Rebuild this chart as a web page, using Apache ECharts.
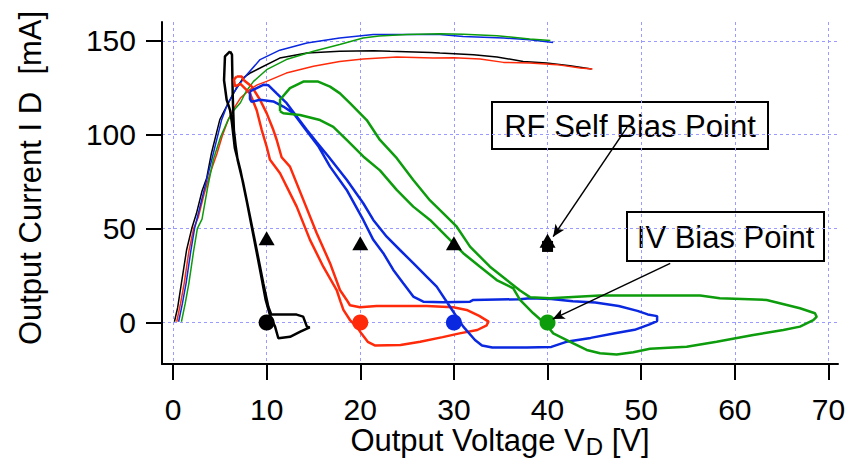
<!DOCTYPE html>
<html><head><meta charset="utf-8">
<script src="https://cdn.jsdelivr.net/npm/echarts@6.0.0/dist/echarts.min.js"></script>
<style>html,body{margin:0;padding:0;background:#fff}#c{width:848px;height:460px}</style>
</head><body><div id="c"></div>
<script>
// ---- tick labels ----
const xTicks = [0, 10, 20, 30, 40, 50, 60, 70];
const yTicks = [0, 50, 100, 150];

// ---- DC I-V curves (thin) ----
const ivBlack = [[0.15,0.4],[0.5,8],[0.9,21],[1.45,38.6],[2.0,50],[2.5,58],[3.1,70],[3.6,77],[4.1,90],[4.6,100],[5.0,108],[5.5,113],[6.1,118.6],[6.8,125],[7.5,130.2],[8.3,133],[9.3,135.5],[11.4,140.8],[14.3,143.5],[17.8,144.4],[21.4,144.7],[23.2,144.4],[27.5,143.8],[28.5,143.5],[32.1,142.6],[34.6,141.4],[37.4,139],[39.9,138.2],[42.4,136.7],[44.7,135]];
const ivRed = [[0.4,0.4],[0.8,10],[1.2,21],[1.7,38],[2.2,50],[2.7,56],[3.3,68],[4.0,80],[4.7,90],[5.3,100],[5.9,108],[6.5,114],[7.2,119.5],[8.2,124],[9.0,126.5],[10,128.4],[12.1,132.8],[15,136.4],[17.8,139],[20.3,140.3],[23.9,141.4],[27.8,140.8],[30,141],[32.8,140.3],[35.3,138.5],[38.1,138.2],[41,137.3],[43.5,135.5],[44.8,135]];
const ivBlue = [[0.6,0.4],[1.0,10],[1.4,21],[1.9,38],[2.3,50],[2.55,55],[3.6,76],[4.4,92],[5.2,108],[5.8,116],[6.45,122],[7.1,127],[7.9,132],[9.3,140],[11.4,145],[14.3,148.8],[17.8,151.5],[21.4,153.3],[23.9,153.3],[28.5,153.3],[31,152.3],[35.3,151.5],[38.1,150.6],[40.6,149.1]];
const ivGreen = [[0.9,0.4],[1.3,10],[1.7,21],[2.2,38],[2.6,50],[3.1,55],[3.7,72],[4.3,86.6],[5.1,99],[5.9,108],[6.5,113],[7.2,117],[7.8,123],[8.6,128.4],[10,134.6],[12.1,140],[15,144.4],[17.8,148],[20.3,151.5],[22,152.5],[25,153.3],[28.5,153.8],[31,153.5],[34.6,152.7],[38.1,151],[40.3,150.2]];

// ---- RF dynamic load lines (thick loops) ----
const rfBlack = [[6.09,144.4],[6.3,142.6],[6.38,120.4],[6.5,102.6],[6.7,93.7],[6.9,86.6],[7.5,74.2],[8.22,56.4],[8.94,38.6],[9.64,20.9],[10.18,8.4],[10.5,4.2],[11.5,4.2],[13.2,4.2],[13.9,3.1],[14.3,-2.2],[14.6,-2.6],[13.6,-4.9],[12.5,-7.6],[11.25,-8.4],[10.9,-2.2],[10.4,3.1],[9.9,12],[9.3,28],[8.6,46],[7.9,64],[7.2,81],[6.6,93],[6.3,106],[6.1,113],[5.73,118.6],[5.45,129],[5.55,141.7],[6.09,144.4]];
const rfRed = [[6.8,131],[7.34,131],[7.51,129.3],[8.4,125.7],[9.29,118.6],[10.0,111.5],[10.71,102.6],[11.07,97.3],[11.6,88],[12.49,83],[13.92,65.3],[15.35,47.5],[16.77,31.6],[17.83,17.3],[18.55,12],[18.9,9.2],[19.97,8.1],[21.75,8.8],[27.09,8.8],[29.93,8.1],[31.36,6.7],[32.7,3.5],[33.7,0.5],[33.5,-1.5],[32.5,-4],[30.6,-5.8],[28.8,-7.8],[26.4,-10.2],[24.3,-12],[21.6,-12.3],[20.8,-10.3],[20.0,-5],[19.6,-2.2],[18.9,1.3],[18.2,6.7],[17.9,11],[17.48,17.3],[16.05,29.7],[14.63,44],[13.21,61.7],[11.43,79.5],[10.36,86.6],[10.0,93.7],[9.47,102.6],[8.94,113],[8.22,122],[7.2,127],[6.62,125.7],[6.51,129.3],[6.8,131]];
const rfBlue = [[8.22,123],[8.94,124.8],[9.7,126.6],[10.2,126.3],[11.07,122],[12.14,116.8],[13.21,109.7],[14.28,102.6],[15.35,96],[16.6,88.4],[18.55,76],[20.32,63.5],[21.39,54.6],[22.82,45.7],[24.24,38.6],[25.66,31.6],[27.09,24.4],[28.16,19.1],[29.58,8.4],[31.0,-2.2],[32.25,-9.3],[33.0,-12.2],[34.1,-13.3],[37.8,-13.3],[40.4,-13],[42,-10.3],[44.6,-8.2],[47.2,-5.7],[49.3,-3.9],[50.9,-1],[51.7,0.8],[51.7,3.4],[50.7,4.3],[49.6,6.2],[47.6,8.8],[45.1,10.6],[42.7,11.3],[40.4,12.5],[38.12,12.9],[37.06,12.4],[32.07,12],[31.72,11.1],[28.87,10.8],[26.73,11.1],[25.66,13.8],[24.59,20.9],[23.53,28],[22.46,36.9],[21.39,44],[20.32,54.6],[18.55,70.6],[16.77,83],[15.5,94],[13.92,104.4],[12.85,111.5],[11.78,115],[10.71,117.7],[9.29,118.6],[8.4,117.5],[8.22,119],[8.22,123]];
const rfGreen = [[11.43,112.5],[11.43,118.6],[12.49,124.8],[13.92,128.3],[15.5,128.3],[16.77,125.6],[17.83,122],[18.9,116.8],[20.69,107.8],[22.1,97.2],[23.9,87.5],[25.66,75.9],[27.45,65],[28.87,58.1],[30.3,51],[31.72,40.4],[33.85,29.7],[35.64,22.6],[37.06,17],[38.12,13.5],[40.26,12.9],[45.6,14.4],[56.3,14.4],[58.4,12.9],[63.4,12],[66.96,7.6],[68.56,4.9],[68.74,3],[68.38,1.3],[66.96,-2.2],[65.18,-4],[61.97,-6.7],[58.06,-10.2],[54.86,-12.9],[50.94,-14],[49.16,-15.8],[47.38,-17.1],[45.6,-16.4],[44.18,-14.6],[42.75,-11.1],[40.61,-5.8],[39.9,-1.3],[38.48,4.9],[37.06,12],[36.34,18.2],[34.57,22.6],[32.79,29.7],[31,36.9],[29.23,45.7],[27.45,54.6],[25.66,61.7],[23.89,70.6],[22.1,81],[20.32,88.4],[18.55,97.2],[17.12,104.2],[15.7,107.8],[13.56,110.5],[11.78,111.4],[11.43,112.5]];

// ---- bias points ----
const biasVoltage = [10, 20, 30, 40];          // V_D bias of each trace
const ivBiasCurrent = [0, 0, 0, 0];            // IV bias point current
const rfBiasCurrent = [44.8, 42.2, 42.2, 43.5]; // RF self bias point current
const rfExtraPoint = [[40, 40.5]];             // square marker under the 40 V triangle

// ---- annotations ----
const annRF = { text: 'RF Self Bias Point', from: [48.5, 104], to: [40.6, 45.7] };
const annIV = { text: 'IV Bias Point', from: [53.1, 31.5], to: [40.55, 1.8] };

const COLORS = ['#000000', '#ff2a0a', '#0a28e0', '#0c9c0c'];
const FONT = "'Liberation Sans', Arial, sans-serif";

const chart = echarts.init(document.getElementById('c'), null, { renderer: 'svg' });

const ivSets = [ivBlack, ivRed, ivBlue, ivGreen];
const rfSets = [rfBlack, rfRed, rfBlue, rfGreen];
const series = [];
ivSets.forEach((d, i) => series.push({
  type: 'line', data: d, showSymbol: false, symbol: 'none', silent: true,
  lineStyle: { color: COLORS[i], width: 1.5 }, z: 2
}));
rfSets.forEach((d, i) => series.push({
  type: 'line', data: d, showSymbol: false, symbol: 'none', silent: true,
  lineStyle: { color: COLORS[i], width: 2.5 }, z: 3
}));
series.push({
  type: 'scatter', symbol: 'circle', symbolSize: 16, z: 5,
  data: biasVoltage.map((v, i) => ({ value: [v, ivBiasCurrent[i]], itemStyle: { color: COLORS[i], opacity: 1 } }))
});
series.push({
  type: 'scatter', symbol: 'rect', symbolSize: 11, z: 5, itemStyle: { color: '#000', opacity: 1 },
  data: rfExtraPoint
});
series.push({
  type: 'scatter', symbol: 'triangle', symbolSize: [16, 14], z: 5, itemStyle: { color: '#000', opacity: 1 },
  data: biasVoltage.map((v, i) => [v, rfBiasCurrent[i]]),
  markLine: {
    silent: true, symbol: ['none', 'arrow'], symbolSize: [8, 12], z: 6,
    lineStyle: { color: '#000', width: 1.5, type: 'solid', opacity: 1 },
    label: { show: false },
    data: [
      [{ coord: annRF.from }, { coord: annRF.to }],
      [{ coord: annIV.from }, { coord: annIV.to }]
    ]
  }
});

const gridLine = { show: true, lineStyle: { color: '#9a9aff', width: 1, type: [3, 3] } };

chart.setOption({
  animation: false,
  backgroundColor: '#fff',
  grid: { left: 162, top: 22, width: 676, height: 342, containLabel: false, outerBoundsMode: 'none' },
  xAxis: {
    type: 'value', min: -1.175, max: 71.02,
    axisLine: { show: true, onZero: false, lineStyle: { color: '#000', width: 2 } },
    axisTick: { show: true, inside: false, length: 16, lineStyle: { color: '#000', width: 2 }, customValues: xTicks },
    axisLabel: { customValues: xTicks, fontSize: 30, lineHeight: 24, color: '#000', fontFamily: FONT, margin: 33 },
    splitLine: gridLine,
    name: '{a|Output Voltage V}{d|D}{a| [V]}',
    nameLocation: 'middle', nameGap: 61, nameMoveOverlap: false,
    nameTextStyle: {
      rich: {
        a: { fontSize: 31, fontFamily: FONT, color: '#000', verticalAlign: 'top', lineHeight: 30 },
        d: { fontSize: 24, fontFamily: FONT, color: '#000', verticalAlign: 'top', lineHeight: 22, padding: [9, 0, 0, 1] }
      }
    }
  },
  yAxis: {
    type: 'value', min: -22.1, max: 160,
    axisLine: { show: true, onZero: false, lineStyle: { color: '#000', width: 2 } },
    axisTick: { show: true, inside: false, length: 16, lineStyle: { color: '#000', width: 2 }, customValues: yTicks },
    axisLabel: { customValues: yTicks, fontSize: 30, color: '#000', fontFamily: FONT, margin: 26 },
    splitLine: gridLine,
    name: 'Output Current I D  [mA]',
    nameLocation: 'middle', nameGap: 116, nameRotate: 90,
    nameTextStyle: { fontSize: 31, fontFamily: FONT, color: '#000', padding: [0, 0, 0, 30] }
  },
  graphic: [
    {
      type: 'group', z: 1, children: [
        { type: 'rect', shape: { x: 492, y: 102, width: 276, height: 47 }, style: { fill: '#fff', stroke: '#000', lineWidth: 2 } },
        { type: 'text', x: 630, y: 126, style: { text: annRF.text, font: "31px 'Liberation Sans', Arial, sans-serif", fill: '#000', align: 'center', verticalAlign: 'middle' } }
      ]
    },
    {
      type: 'group', z: 100, children: [
        { type: 'rect', shape: { x: 627, y: 212, width: 197, height: 49 }, style: { fill: '#fff', stroke: '#000', lineWidth: 2 } },
        { type: 'text', x: 725.5, y: 237, style: { text: annIV.text, font: "31px 'Liberation Sans', Arial, sans-serif", fill: '#000', align: 'center', verticalAlign: 'middle' } }
      ]
    }
  ],
  series: series
});
</script></body></html>
